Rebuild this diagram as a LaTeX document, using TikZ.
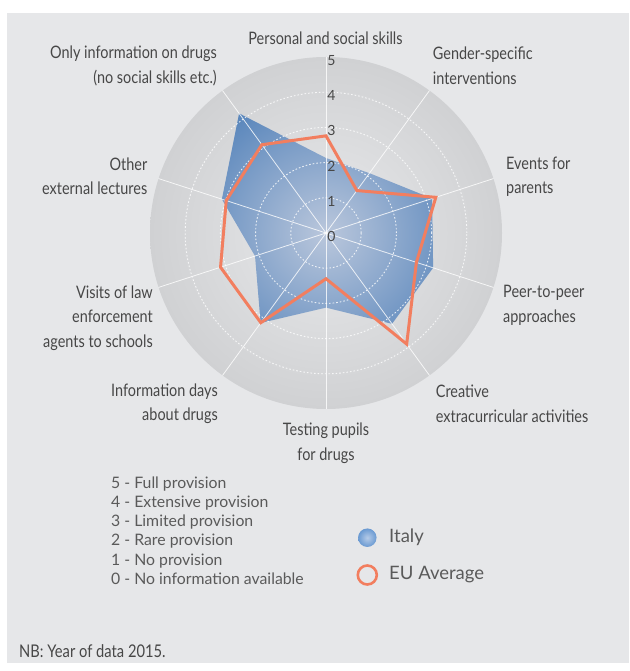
\documentclass[tikz,border=0pt]{standalone}
\usepackage{fontspec}
\setmainfont{Lato}
\newfontfamily\condfont{Lato}[FakeStretch=0.84]
\definecolor{bg}{HTML}{E6E7E9}
\definecolor{diskin}{HTML}{E8E9EB}
\definecolor{diskout}{HTML}{D0D1D3}
\definecolor{bluein}{HTML}{BAC7DC}
\definecolor{blueout}{HTML}{4679B5}
\definecolor{eu}{HTML}{F27E5F}
\definecolor{txt}{HTML}{474747}
\definecolor{keytxt}{HTML}{5A5A5A}
\definecolor{legin}{HTML}{B5CBE8}
\definecolor{legout}{HTML}{6A9AD2}
\begin{document}
\begin{tikzpicture}[x=1pt,y=1pt,
  lbl/.style={font=\condfont\fontsize{17.2}{24.5}\selectfont, text=txt, inner sep=0pt},
  keyfont/.style={font=\fontsize{15.8}{19.2}\selectfont, text=keytxt, inner sep=0pt, align=left},
  legfont/.style={font=\fontsize{18.5}{21}\selectfont, text=keytxt, inner sep=0pt},
  num/.style={font=\fontsize{14}{16}\selectfont, text=txt, inner sep=0pt},
  spoke/.style={white, line width=0.8pt, opacity=0.8},
  ringline/.style={white, line width=0.9pt, dash pattern=on 1.6pt off 2pt, opacity=0.8},
  euline/.style={eu, line width=3pt, line join=miter, miter limit=6}]
\useasboundingbox (0,0) rectangle (629,671);
\fill[white] (0,0) rectangle (629,671);
\fill[bg] (7,7.7) rectangle (629,658.3);
\begin{scope}[shift={(326,438)}, scale=35.2]
  \shade[inner color=diskin, outer color=diskout] (0,0) circle (5);
  \begin{scope}
    \clip (90:2.13) -- (54:2.1) -- (18:3.17) -- (-18:3.2) -- (-54:3.19)
      -- (-90:2.12) -- (-126:3.16) -- (-162:2.12) -- (162:3.11) -- (126:4.2) -- cycle;
    \shade[inner color=bluein, outer color=blueout] (0,0) circle (5);
  \end{scope}
  \foreach \a in {90,54,18,-18,-54}
    \draw[spoke] (\a:5) -- ({\a+180}:5);
  \foreach \r in {1,2,3,4}
    \draw[ringline] (0,0) circle (\r);
  \draw[euline] (90:2.76) -- (54:1.49) -- (18:3.28) -- (-18:2.7) -- (-54:3.9)
    -- (-90:1.3) -- (-126:3.15) -- (-162:3.15) -- (162:2.98) -- (126:3.1) -- cycle;
\end{scope}
\foreach \n in {0,...,5}
  \node[num] (n\n) at (331.5,{434.5+35.2*\n}) {\n};
\node[lbl] (personal) at (325.5,633) {Personal and social skills};
\node[lbl, align=left, anchor=west] (gender) at (432.7,605.5) {Gender-specific\\interventions};
\node[lbl, align=left, anchor=west] (events) at (506,494.5) {Events for\\parents};
\node[lbl, align=left, anchor=west] (peer) at (503,365.5) {Peer-to-peer\\approaches};
\node[lbl, align=left, anchor=west] (creative) at (435.7,267.3) {Creative\\extracurricular activities};
\node[lbl, align=center] (testing) at (326,227.8) {Testing pupils\\for drugs};
\node[lbl, align=right, anchor=east] (infodays) at (218,267.2) {Information days\\about drugs};
\node[lbl, align=right, anchor=east] (visits) at (153,353.2) {Visits of law\\enforcement\\agents to schools};
\node[lbl, align=right, anchor=east] (other) at (147.5,494.8) {Other\\external lectures};
\node[lbl, align=right, anchor=east] (onlyinfo) at (217,605.2) {Only information on drugs\\(no social skills etc.)};
\node[keyfont, anchor=west] (key) at (111,140.5) {5 - Full provision\\4 - Extensive provision\\3 - Limited provision\\2 - Rare provision\\1 - No provision\\0 - No information available};
\node[circle, minimum size=18.5pt, inner sep=0pt, inner color=legin, outer color=legout] (italymark) at (367.3,133.3) {};
\node[legfont, anchor=west] (italy) at (389,133.3) {Italy};
\node[circle, draw=eu, line width=2.6pt, minimum size=19pt, inner sep=0pt] (eumark) at (367.3,96) {};
\node[legfont, anchor=west] (euavg) at (389,96) {EU Average};
\node[lbl, font=\condfont\fontsize{17.5}{21}\selectfont, anchor=west] (nb) at (19,20.3) {NB: Year of data 2015.};
\end{tikzpicture}
\end{document}
